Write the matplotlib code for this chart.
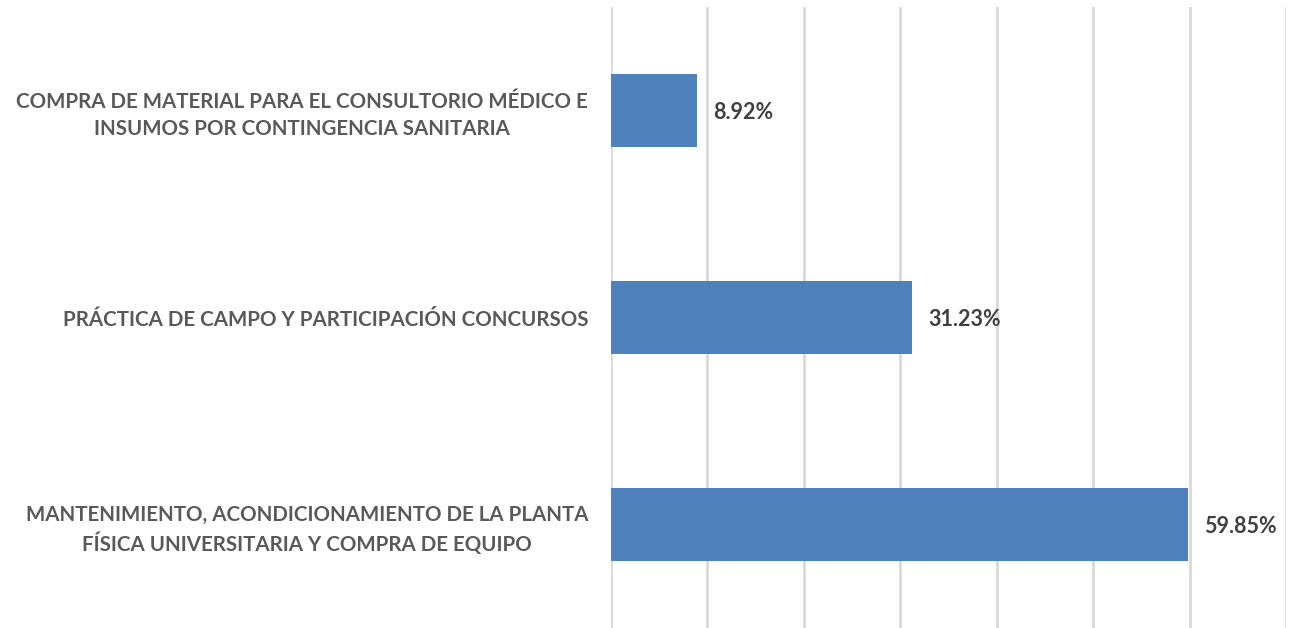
import matplotlib.pyplot as plt
from matplotlib.ticker import MultipleLocator

categorias = [
    "MANTENIMIENTO, ACONDICIONAMIENTO DE LA PLANTA\nFÍSICA UNIVERSITARIA Y COMPRA DE EQUIPO",
    "PRÁCTICA DE CAMPO Y PARTICIPACIÓN CONCURSOS",
    "COMPRA DE MATERIAL PARA EL CONSULTORIO MÉDICO E\nINSUMOS POR CONTINGENCIA SANITARIA",
]
porcentajes = [59.85, 31.23, 8.92]
etiquetas = ["59.85%", "31.23%", "8.92%"]

plt.rcParams['font.family'] = ['Lato', 'DejaVu Sans']

W, H = 1291, 628
fig = plt.figure(figsize=(W / 100, H / 100), dpi=100)
ax = fig.add_axes([611 / W, 0, (1286 - 611) / W, (H - 7) / H])

y = list(range(len(categorias)))
ax.barh(y, porcentajes, height=0.357, color='#4f81bd', zorder=3)

ax.set_xlim(0, 70)
ax.set_ylim(-0.5, len(categorias) - 0.5)
ax.xaxis.set_major_locator(MultipleLocator(10))
ax.grid(axis='x', color='#d9d9d9', linewidth=2, zorder=0)
ax.set_axisbelow(True)
for s in ax.spines.values():
    s.set_visible(False)
ax.tick_params(axis='x', length=0, labelbottom=False)
ax.tick_params(axis='y', length=0, pad=16.5)
ax.set_yticks(y)
ax.set_yticklabels(categorias, fontsize=14.8, fontweight='bold', color='#595959',
                   multialignment='center', linespacing=1.4)

for yi, v, t in zip(y, porcentajes, etiquetas):
    ax.annotate(t, (v, yi), xytext=(16, -2), textcoords='offset pixels',
                ha='left', va='center', fontsize=15.5, fontweight='bold', color='#404040')

fig.savefig('out.png', dpi=100)
